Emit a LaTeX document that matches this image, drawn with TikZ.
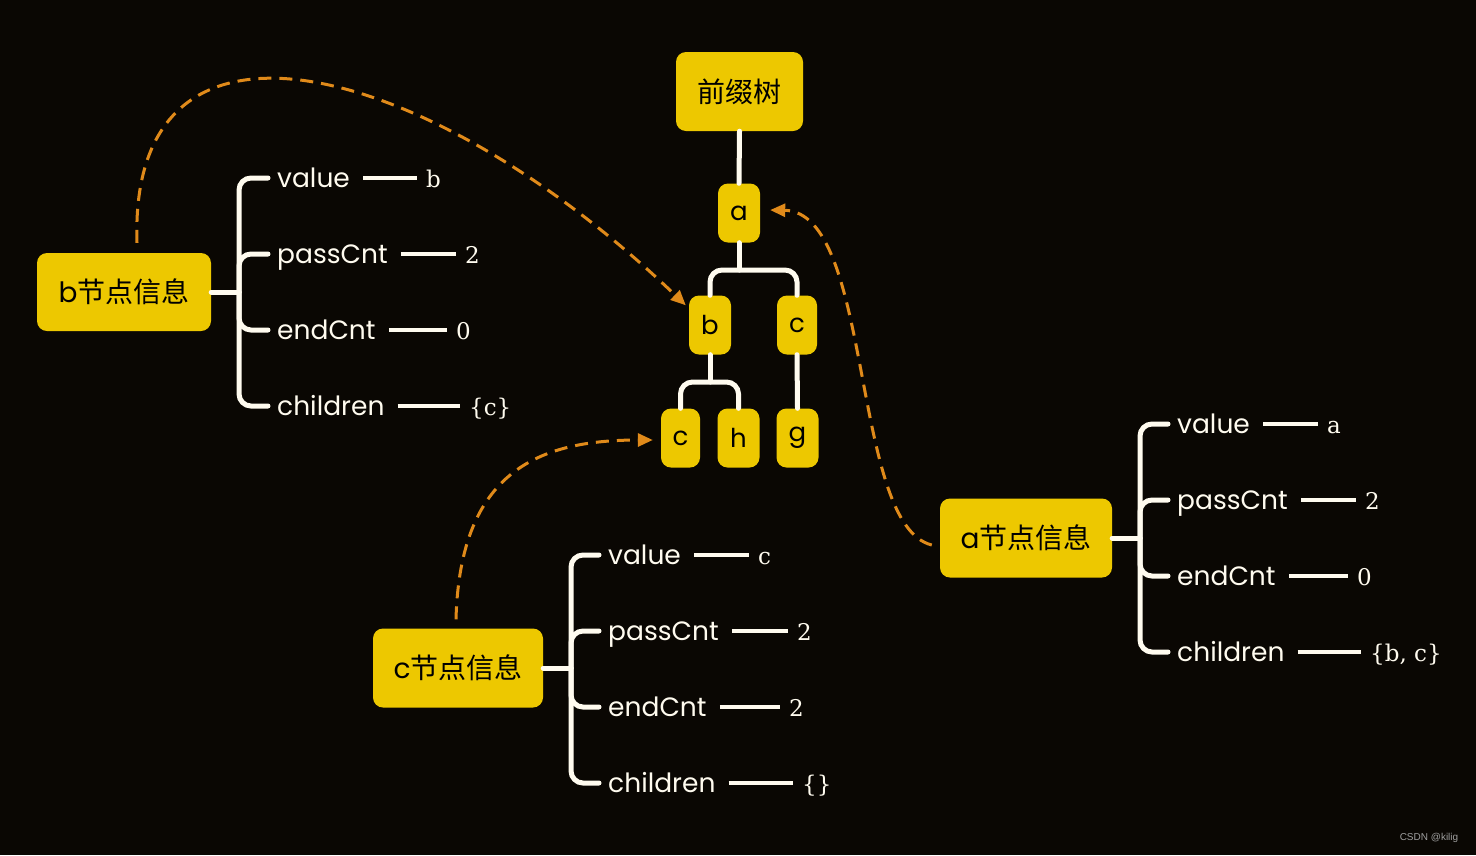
\documentclass[tikz,border=0pt]{standalone}
\usepackage{fontspec}
\setmainfont{Poppins}
\newfontfamily\cjk{Noto Sans CJK SC}
\newfontfamily\ser{DejaVu Serif}
\newfontfamily\wm{Liberation Sans}
\usetikzlibrary{arrows.meta,calc}
\definecolor{bg}{HTML}{0A0703}
\definecolor{yel}{HTML}{EDC800}
\definecolor{org}{HTML}{E08A1A}
\definecolor{wht}{HTML}{FFFBEF}
\begin{document}
\begin{tikzpicture}[x=1pt,y=-1pt,
 box/.style={fill=yel, rounded corners=10pt, inner sep=0pt, text=black},
 tn/.style={box, minimum width=42pt, minimum height=59pt, font=\fontsize{26}{26}\selectfont},
 info/.style={box, minimum width=174pt, minimum height=78pt, font=\fontsize{28}{28}\selectfont},
 lab/.style={anchor=west, inner sep=0pt, text=wht, text height=27pt, text depth=9pt, font=\fontsize{26.5}{26.5}\selectfont},
 val/.style={anchor=west, inner sep=0pt, text=wht, text height=27pt, text depth=9pt, font=\ser\fontsize{23}{23}\selectfont},
 wl/.style={draw=wht, line width=5pt, line cap=round},
 br/.style={wl, rounded corners=12pt},
 vl/.style={draw=wht, line width=3.5pt},
 ref/.style={draw=org, line width=3pt, dash pattern=on 13pt off 8pt, -{Triangle[length=15pt,width=13pt]}}]
\fill[bg] (0,0) rectangle (1476,855);
\useasboundingbox (0,0) rectangle (1476,855);

% ---------- tree ----------
\node[box, minimum width=127pt, minimum height=79pt, font=\cjk\fontsize{28}{28}\selectfont] (root) at (739.5,91.5) {前缀树};
\node[tn] (ta) at (739,213) {a};
\node[tn] (tb) at (710,325) {b};
\node[tn, minimum width=40pt] (tc) at (797,325) {c};
\node[tn, minimum width=39pt] (tc2) at (680.5,438) {c};
\node[tn] (th) at (738.5,438) {h};
\node[tn] (tg) at (797.5,438) {g};
\coordinate (aj) at (739,270);
\coordinate (bj) at (710,382);
\draw[wl] (root.south) -- (ta.north);
\draw[wl] (ta.south) -- (aj);
\draw[br] (tb.north) |- (aj) -| (tc.north);
\draw[wl] (tb.south) -- (bj);
\draw[br] (tc2.north) |- (bj) -| (th.north);
\draw[wl] (tc.south) -- (tg.north);

% ---------- b info ----------
\node[info] (binfo) at (124,292) {b{\cjk 节点信息}};
\coordinate (bjj) at (239,292);
\node[lab] (bl1) at (277,178) {value};
\node[lab] (bl2) at (277,254) {passCnt};
\node[lab] (bl3) at (277,330) {endCnt};
\node[lab] (bl4) at (277,406) {children};
\node[val] (bv1) at (426,178) {b};
\node[val] (bv2) at (465,254) {2};
\node[val] (bv3) at (456,330) {0};
\node[val] (bv4) at (469,406) {\{c\}};
\draw[wl] (binfo.east) -- (bjj);
\foreach \i in {1,...,4} {
  \draw[br] (bjj) |- ([xshift=-9pt]bl\i.west);
  \draw[vl] ([xshift=13pt]bl\i.east) -- ([xshift=-9pt]bv\i.west);
}

% ---------- c info ----------
\node[info, minimum width=170pt, minimum height=79pt] (cinfo) at (458,668) {c{\cjk 节点信息}};
\coordinate (cjj) at (571,668);
\node[lab] (cl1) at (608,555) {value};
\node[lab] (cl2) at (608,631) {passCnt};
\node[lab] (cl3) at (608,707) {endCnt};
\node[lab] (cl4) at (608,783) {children};
\node[val] (cv1) at (758,555) {c};
\node[val] (cv2) at (797,631) {2};
\node[val] (cv3) at (789,707) {2};
\node[val] (cv4) at (802,783) {\{\}};
\draw[wl] (cinfo.east) -- (cjj);
\foreach \i in {1,...,4} {
  \draw[br] (cjj) |- ([xshift=-9pt]cl\i.west);
  \draw[vl] ([xshift=13pt]cl\i.east) -- ([xshift=-9pt]cv\i.west);
}

% ---------- a info ----------
\node[info, minimum width=172pt, minimum height=79pt] (ainfo) at (1026,538) {a{\cjk 节点信息}};
\coordinate (ajj) at (1140,538);
\node[lab] (al1) at (1177,424) {value};
\node[lab] (al2) at (1177,500) {passCnt};
\node[lab] (al3) at (1177,576) {endCnt};
\node[lab] (al4) at (1177,652) {children};
\node[val] (av1) at (1327,424) {a};
\node[val] (av2) at (1365,500) {2};
\node[val] (av3) at (1357,576) {0};
\node[val] (av4) at (1370,652) {\{b, c\}};
\draw[wl] (ainfo.east) -- (ajj);
\foreach \i in {1,...,4} {
  \draw[br] (ajj) |- ([xshift=-9pt]al\i.west);
  \draw[vl] ([xshift=13pt]al\i.east) -- ([xshift=-9pt]av\i.west);
}

% ---------- dashed references ----------
\draw[ref] ($(binfo.north)+(13,-10)$) .. controls (128,-22) and (430,60) .. ($(tb.north west)+(-3,10)$);
\draw[ref] ($(ainfo.west)+(-8,7)$) .. controls (850,525) and (874,212) .. ($(ta.east)+(10,-3)$);
\draw[ref] ($(cinfo.north)+(-2,-9)$) .. controls (460,470) and (540,440) .. ($(tc2.west)+(-8,2)$);

\node[text=gray!75, font=\wm\fontsize{10}{10}\selectfont] (wmk) at (1429,838) {CSDN @kilig};
\end{tikzpicture}
\end{document}
